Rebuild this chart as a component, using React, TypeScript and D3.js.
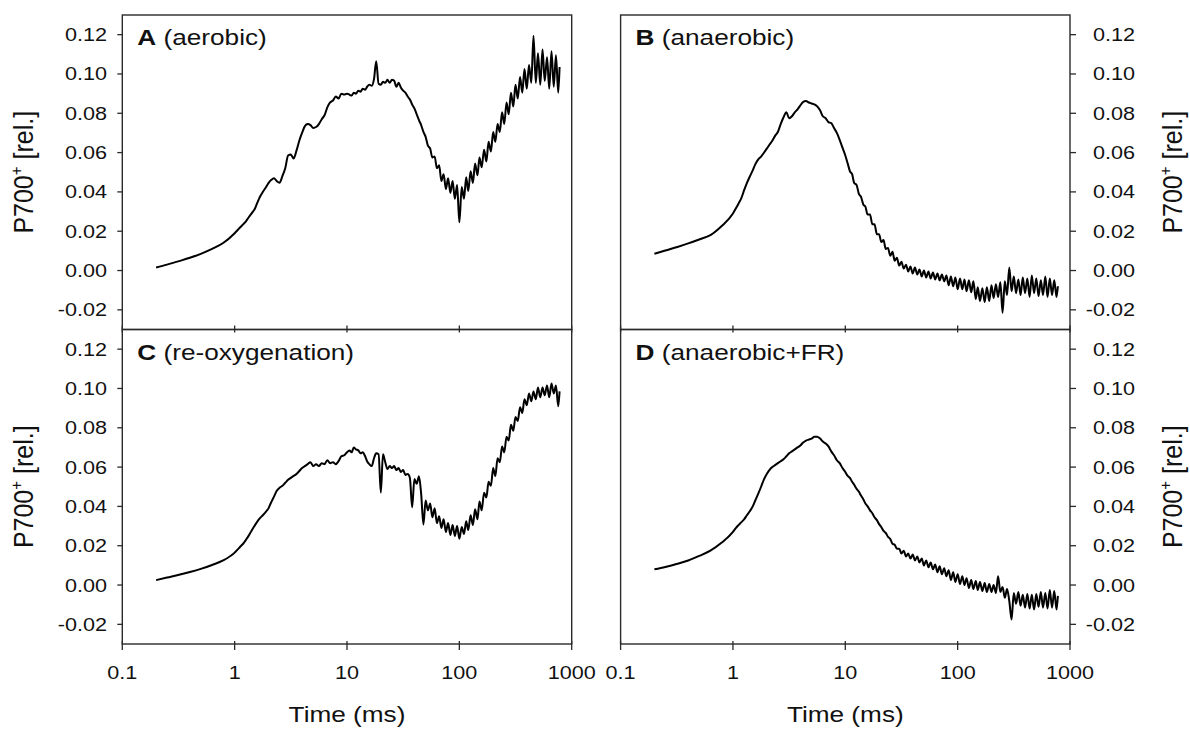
import React from 'react';
import * as d3 from 'd3';

// Time axis (ms), shared by all four traces
const timesMs = [
  0.2, 0.25, 0.32, 0.4, 0.5, 0.63, 0.79, 1.0,
  1.06, 1.12, 1.19, 1.26, 1.33, 1.41, 1.5, 1.58, 1.68, 1.78,
  1.88, 2.0, 2.11, 2.24, 2.37, 2.51, 2.66, 2.82, 2.99, 3.16,
  3.35, 3.55, 3.76, 3.98, 4.22, 4.47, 4.73, 5.01, 5.31, 5.62,
  5.96, 6.31, 6.68, 7.08, 7.5, 7.94, 8.41, 8.91, 9.44, 10.0,
  10.5, 11.0, 11.5, 12.0, 12.6, 13.2, 13.8, 14.5, 15.1, 15.8, 16.6, 17.4, 18.2, 19.1, 20.0,
  20.9, 21.9, 22.9, 24.0, 25.1, 26.3, 27.5, 28.8, 30.2, 31.6, 33.1, 34.7, 36.3, 38.0, 39.8,
  41.7, 43.7, 45.7, 47.9, 50.1, 52.5, 55.0, 57.5, 60.3, 63.1, 66.1, 69.2, 72.4, 75.9, 79.4,
  83.2, 87.1, 91.2, 95.5, 100, 105, 110, 115, 120, 126, 132, 138, 145, 151, 158,
  166, 174, 182, 191, 200, 209, 219, 229, 240, 251, 263, 275, 288, 302, 316,
  331, 347, 363, 380, 398, 417, 437, 457, 479, 501, 525, 550, 575, 603, 631,
  661, 692, 724, 759, 780,
];

// A (aerobic)
const aerobic = [
  0.0015, 0.003, 0.0048, 0.0065, 0.0085, 0.011, 0.014, 0.019,
  0.0205, 0.022, 0.0235, 0.025, 0.027, 0.029, 0.031, 0.034, 0.0375, 0.040,
  0.042, 0.0445, 0.046, 0.047, 0.0455, 0.0447, 0.048, 0.052, 0.0585, 0.059,
  0.057, 0.061, 0.066, 0.070, 0.0735, 0.0745, 0.074, 0.0725, 0.073, 0.0745,
  0.077, 0.079, 0.083, 0.0855, 0.0865, 0.0885, 0.0875, 0.090, 0.0895, 0.090,
  0.0895, 0.089, 0.0905, 0.090, 0.0915, 0.091, 0.0925, 0.092, 0.0935, 0.0945, 0.094, 0.0975, 0.1065, 0.095, 0.0945,
  0.096, 0.0955, 0.097, 0.0955, 0.097, 0.0965, 0.0935, 0.0955, 0.093, 0.0915, 0.0905, 0.0885, 0.087, 0.0845, 0.0825,
  0.0795, 0.0765, 0.074, 0.0705, 0.068, 0.0635, 0.062, 0.0575, 0.058, 0.052, 0.0535, 0.0455, 0.049, 0.0415, 0.047,
  0.0395, 0.0455, 0.0365, 0.0435, 0.0245, 0.0425, 0.0365, 0.0475, 0.0405, 0.0505, 0.0445, 0.0545, 0.0485, 0.0575, 0.0525,
  0.0615, 0.0555, 0.0655, 0.0605, 0.0705, 0.0655, 0.0745, 0.0705, 0.0805, 0.0745, 0.0855, 0.0795, 0.0905, 0.0835, 0.0945,
  0.0875, 0.0985, 0.0905, 0.1025, 0.0925, 0.1045, 0.0955, 0.1195, 0.0955, 0.1105, 0.0945, 0.1125, 0.0965, 0.1085, 0.0925,
  0.1115, 0.0935, 0.1095, 0.0905, 0.1035,
];

// B (anaerobic)
const anaerobic = [
  0.0085, 0.0102, 0.012, 0.0138, 0.0158, 0.018, 0.0225, 0.029,
  0.0315, 0.034, 0.037, 0.041, 0.0445, 0.0477, 0.051, 0.054, 0.0565, 0.058,
  0.0598, 0.062, 0.064, 0.066, 0.0685, 0.0705, 0.0745, 0.078, 0.0805, 0.0775,
  0.0785, 0.0805, 0.082, 0.084, 0.0858, 0.0862, 0.0855, 0.085, 0.0845, 0.0835,
  0.0815, 0.0785, 0.0775, 0.0755, 0.075, 0.0725, 0.070, 0.0665, 0.0625, 0.0585,
  0.0545, 0.0505, 0.049, 0.0445, 0.0435, 0.039, 0.0375, 0.0335, 0.0325, 0.0285, 0.0285, 0.0235, 0.0235, 0.0185, 0.0185,
  0.0145, 0.0155, 0.011, 0.0115, 0.0075, 0.0095, 0.005, 0.0065, 0.0025, 0.0045, 0.001, 0.003, -0.0005, 0.002, -0.0015,
  0.0015, -0.002, 0.0005, -0.003, 0.0, -0.0035, -0.0005, -0.004, -0.001, -0.0045, -0.0015, -0.005, -0.002, -0.0055, -0.0025,
  -0.0075, -0.003, -0.008, -0.0035, -0.0095, -0.004, -0.0095, -0.0045, -0.0105, -0.005, -0.011, -0.0055, -0.0145, -0.0085, -0.0155,
  -0.009, -0.016, -0.0085, -0.0155, -0.0075, -0.014, -0.007, -0.0135, -0.006, -0.0215, -0.0055, -0.0125, 0.0015, -0.0105, -0.003,
  -0.0115, -0.0045, -0.0125, -0.0035, -0.0115, -0.004, -0.0135, -0.0025, -0.0115, -0.004, -0.013, -0.005, -0.0125, -0.003, -0.0135,
  -0.004, -0.0125, -0.005, -0.0135, -0.008,
];

// C (re-oxygenation)
const reoxygenation = [
  0.0025, 0.0038, 0.0052, 0.0066, 0.0082, 0.0102, 0.0125, 0.0165,
  0.018, 0.0195, 0.021, 0.023, 0.025, 0.0275, 0.030, 0.032, 0.034, 0.0355,
  0.037, 0.039, 0.042, 0.045, 0.048, 0.0495, 0.0505, 0.052, 0.0535, 0.0545,
  0.0555, 0.0565, 0.058, 0.0595, 0.0605, 0.0615, 0.0625, 0.0605, 0.0615, 0.0605,
  0.062, 0.0615, 0.0635, 0.062, 0.0625, 0.0615, 0.063, 0.0655, 0.066, 0.0675,
  0.0685, 0.0675, 0.070, 0.069, 0.0685, 0.067, 0.0675, 0.0655, 0.063, 0.0615, 0.0605, 0.0645, 0.067, 0.0665, 0.047,
  0.0665, 0.0625, 0.059, 0.0605, 0.0595, 0.0605, 0.0585, 0.0595, 0.0575, 0.0585, 0.056, 0.0565, 0.0545, 0.0395, 0.054,
  0.0515, 0.0553, 0.0465, 0.0308, 0.043, 0.038, 0.0415, 0.0345, 0.039, 0.0315, 0.035, 0.029, 0.0335, 0.027, 0.0315,
  0.0255, 0.0305, 0.025, 0.030, 0.0235, 0.0295, 0.026, 0.0325, 0.028, 0.0355, 0.0305, 0.0385, 0.0335, 0.0425, 0.038,
  0.047, 0.0445, 0.0525, 0.0505, 0.0595, 0.0555, 0.0645, 0.0625, 0.0705, 0.0675, 0.0755, 0.0735, 0.0815, 0.0785, 0.0855,
  0.0835, 0.0905, 0.0875, 0.0945, 0.0915, 0.0975, 0.0935, 0.0985, 0.0945, 0.1005, 0.0955, 0.1005, 0.0965, 0.1015, 0.0955,
  0.1025, 0.0975, 0.1015, 0.091, 0.0985,
];

// D (anaerobic+FR)
const anaerobicFR = [
  0.008, 0.0092, 0.0108, 0.0125, 0.0148, 0.0175, 0.0215, 0.027,
  0.029, 0.0305, 0.032, 0.0335, 0.0355, 0.0375, 0.040, 0.043, 0.0465, 0.050,
  0.0535, 0.0565, 0.0585, 0.060, 0.061, 0.062, 0.063, 0.064, 0.0655, 0.067,
  0.068, 0.069, 0.070, 0.071, 0.0725, 0.0735, 0.074, 0.0745, 0.0755, 0.0755,
  0.0745, 0.073, 0.072, 0.0705, 0.068, 0.066, 0.0635, 0.062, 0.0595, 0.0575,
  0.0555, 0.0545, 0.0525, 0.051, 0.049, 0.0475, 0.0455, 0.0435, 0.0415, 0.040, 0.038, 0.0365, 0.0345, 0.033, 0.031,
  0.0295, 0.0275, 0.0265, 0.0245, 0.0235, 0.021, 0.0205, 0.0185, 0.0185, 0.016, 0.0175, 0.0145, 0.016, 0.0135, 0.0155,
  0.0125, 0.0145, 0.0115, 0.0135, 0.010, 0.0125, 0.009, 0.0115, 0.008, 0.0105, 0.0065, 0.0095, 0.0055, 0.0085, 0.0045,
  0.0075, 0.0025, 0.0065, 0.0015, 0.0055, 0.0005, 0.0045, 0.0, 0.0035, -0.0015, 0.0025, -0.002, 0.002, -0.0025, 0.0015,
  -0.003, 0.001, -0.0035, 0.0005, -0.0035, 0.0, -0.004, 0.0045, -0.0035, -0.001, -0.0065, -0.002, -0.008, -0.0175, -0.004,
  -0.0095, -0.0035, -0.0105, -0.005, -0.0115, -0.0045, -0.012, -0.005, -0.0125, -0.0045, -0.011, -0.0035, -0.0115, -0.004, -0.012,
  -0.0025, -0.0115, -0.003, -0.0125, -0.0055,
];

const xTickValues = [0.1, 1, 10, 100, 1000];
const xTickLabels = ['0.1', '1', '10', '100', '1000'];
const yTickValues = [-0.02, 0, 0.02, 0.04, 0.06, 0.08, 0.1, 0.12];
const yTickLabels = ['-0.02', '0.00', '0.02', '0.04', '0.06', '0.08', '0.10', '0.12'];

const panelLetters = ['A', 'B', 'C', 'D'];
const panelNames = ['(aerobic)', '(anaerobic)', '(re-oxygenation)', '(anaerobic+FR)'];
const panelSeries = [aerobic, anaerobic, reoxygenation, anaerobicFR];

const xTitle = 'Time (ms)';

const W = 1190;
const H = 729;
const FONT = "'Liberation Sans', Arial, Helvetica, sans-serif";
const colX: [number, number][] = [[122.3, 571.7], [620.6, 1070]];
const rowY: [number, number][] = [[15, 329.5], [329.5, 644]];
const INK = '#111';
const FRAME = '#2a2a2a';

function SText(props: {
  x: number; y: number; size: number; anchor?: string; sx?: number; children: React.ReactNode;
}) {
  const { x, y, size, anchor = 'start', sx = 1.2, children } = props;
  return (
    <text
      transform={`translate(${x},${y}) scale(${sx},1)`}
      textAnchor={anchor as any}
      fontSize={size}
      fontFamily={FONT}
      fill={INK}
    >
      {children}
    </text>
  );
}

function Panel({ idx }: { idx: number }) {
  const col = idx % 2;
  const row = Math.floor(idx / 2);
  const [x0, x1] = colX[col];
  const [y0, y1] = rowY[row];
  const x = d3.scaleLog().domain([0.1, 1000]).range([x0, x1]);
  const y = d3.scaleLinear().domain([-0.03, 0.13]).range([y1, y0]);
  const vals = panelSeries[idx];
  const n = Math.min(vals.length, timesMs.length);
  const pts: [number, number][] = [];
  for (let i = 0; i < n; i++) pts.push([timesMs[i], vals[i]]);
  const line = d3.line<[number, number]>()
    .x(d => x(d[0]))
    .y(d => y(d[1]))
    .curve(d3.curveMonotoneX);
  const isLeft = col === 0;
  const isBottom = row === 1;
  const labelCy = (y0 + y1) / 2;
  return (
    <g>
      <rect x={x0} y={y0} width={x1 - x0} height={y1 - y0} fill="none" stroke={FRAME} strokeWidth={1.4} />
      {/* x ticks */}
      {xTickValues.map((t, i) => (
        <line key={'xt' + i} x1={x(t)} x2={x(t)}
          y1={isBottom ? y1 - 3 : y1 - 4} y2={isBottom ? y1 + 6 : y1 + 3}
          stroke={FRAME} strokeWidth={1.3} />
      ))}
      {isBottom && xTickValues.map((t, i) => (
        <SText key={'xl' + i} x={x(t)} y={679} size={18} anchor="middle">{xTickLabels[i]}</SText>
      ))}
      {isBottom && (
        <SText x={(x0 + x1) / 2} y={722} size={22} anchor="middle" sx={1.19}>{xTitle}</SText>
      )}
      {/* y ticks */}
      {yTickValues.map((v, i) => (
        <line key={'yt' + i}
          x1={isLeft ? x0 - 5 : x1} x2={isLeft ? x0 : x1 + 6}
          y1={y(v)} y2={y(v)} stroke={FRAME} strokeWidth={1.3} />
      ))}
      {yTickValues.map((v, i) => (
        <SText key={'yl' + i} x={isLeft ? 107 : 1135} y={y(v) + 6.5} size={18} anchor="end">
          {yTickLabels[i]}
        </SText>
      ))}
      {/* y title */}
      <text
        transform={`translate(${isLeft ? 33 : 1182},${labelCy}) scale(1.12,1) rotate(-90)`}
        textAnchor="middle" fontSize={25} fontFamily={FONT} fill={INK}
      >
        P700<tspan dy={-10} fontSize={15}>+</tspan><tspan dy={10}> [rel.]</tspan>
      </text>
      {/* panel label */}
      <SText x={x0 + 15} y={y0 + 30} size={22} sx={1.19}>
        <tspan fontWeight="bold">{panelLetters[idx]}</tspan>
        <tspan>{' ' + panelNames[idx]}</tspan>
      </SText>
      {/* trace */}
      <path d={line(pts) || ''} fill="none" stroke="#000" strokeWidth={2} strokeLinejoin="round" />
    </g>
  );
}

export default function App() {
  return (
    <svg width={W} height={H} viewBox={`0 0 ${W} ${H}`}
      style={{ position: 'absolute', left: 0, top: 0, display: 'block', background: '#fff' }}>
      <rect x={0} y={0} width={W} height={H} fill="#fff" />
      {[0, 1, 2, 3].map(i => <Panel key={i} idx={i} />)}
    </svg>
  );
}
